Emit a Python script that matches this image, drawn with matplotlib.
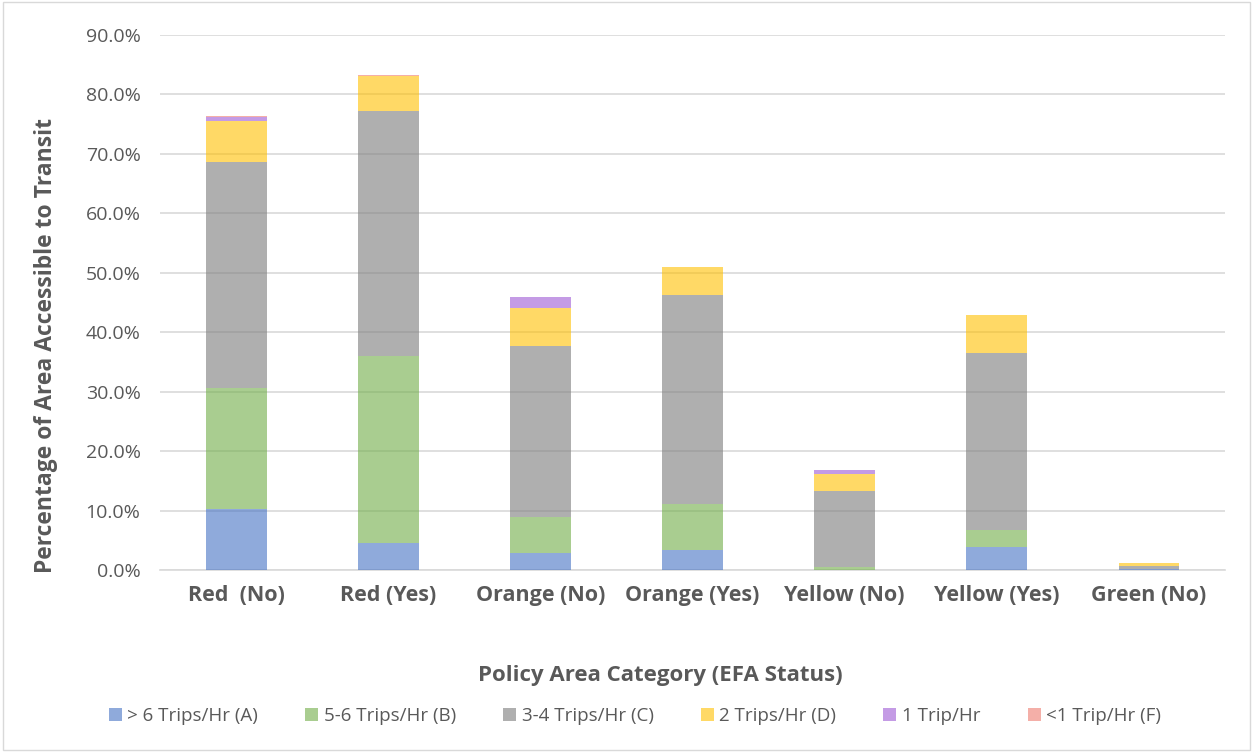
import matplotlib.pyplot as plt
import numpy as np

categories = ['Red  (No)', 'Red (Yes)', 'Orange (No)', 'Orange (Yes)',
              'Yellow (No)', 'Yellow (Yes)', 'Green (No)']
series_names = ['> 6 Trips/Hr (A)', '5-6 Trips/Hr (B)', '3-4 Trips/Hr (C)',
                '2 Trips/Hr (D)', '1 Trip/Hr', '<1 Trip/Hr (F)']

trips_a = [10.3, 4.5, 2.8, 3.4, 0.05, 3.9, 0.1]
trips_b = [20.3, 31.5, 6.1, 7.7, 0.45, 2.8, 0.0]
trips_c = [38.1, 41.2, 28.8, 35.1, 12.8, 29.8, 0.6]
trips_d = [6.8, 5.9, 6.4, 4.8, 2.9, 6.4, 0.4]
trips_e = [0.7, 0.0, 1.8, 0.0, 0.6, 0.0, 0.0]
trips_f = [0.1, 0.1, 0.0, 0.0, 0.1, 0.0, 0.05]

colors = ['#4472C4', '#70AD47', '#7B7B7B', '#FFC000', '#9E58D4', '#ED7B6E']
series = [trips_a, trips_b, trips_c, trips_d, trips_e, trips_f]

plt.rcParams['font.family'] = ['Open Sans', 'DejaVu Sans']

fig = plt.figure(figsize=(12.53, 7.52), dpi=100)
fig.set_facecolor('#ffffff')
ax = fig.add_axes([160 / 1253, 1 - 570 / 752, 1065 / 1253, 535 / 752])

x = np.arange(len(categories))
bottom = np.zeros(len(categories))
for name, vals, col in zip(series_names, series, colors):
    ax.bar(x, vals, width=0.4, bottom=bottom, color=col, alpha=0.6,
           label=name, zorder=3)
    bottom += np.array(vals)

ax.set_xlim(-0.5, len(categories) - 0.5)
ax.set_ylim(0, 90)
ax.set_yticks(np.arange(0, 91, 10))
ax.set_yticklabels([f'{v:.1f}%' for v in np.arange(0, 91, 10)])
ax.set_xticks(x)
ax.set_xticklabels(categories, fontsize=15.5, fontweight='bold', color='#595959')
ax.tick_params(axis='y', labelsize=14, colors='#595959', length=0, pad=14)
ax.tick_params(axis='x', length=0, pad=11)

ax.grid(axis='y', color='#d9d9d9', linewidth=1.2, zorder=0)
ax.set_axisbelow(True)
for s in ['top', 'right', 'left']:
    ax.spines[s].set_visible(False)
ax.spines['bottom'].set_color('#d9d9d9')
ax.spines['bottom'].set_linewidth(1.2)

ax.set_ylabel('Percentage of Area Accessible to Transit', fontsize=16.5,
              fontweight='bold', color='#595959')
ax.yaxis.set_label_coords(-0.096, 0.42)
fig.text(660 / 1253, 1 - 676 / 752, 'Policy Area Category (EFA Status)',
         ha='center', va='center', fontsize=16, fontweight='bold', color='#595959')

handles, labels = ax.get_legend_handles_labels()
fig.legend(handles, labels, loc='center', bbox_to_anchor=(635 / 1253, 1 - 716 / 752),
           ncol=6, frameon=False, fontsize=13.5, labelcolor='#595959',
           handlelength=0.7, handleheight=0.7, handletextpad=0.3, columnspacing=2.5)

fig.patches.append(plt.Rectangle((0.002, 0.002), 0.996, 0.996, transform=fig.transFigure,
                                 fill=False, edgecolor='#d9d9d9', linewidth=1))

fig.savefig('out.png', dpi=100, facecolor='#ffffff')
